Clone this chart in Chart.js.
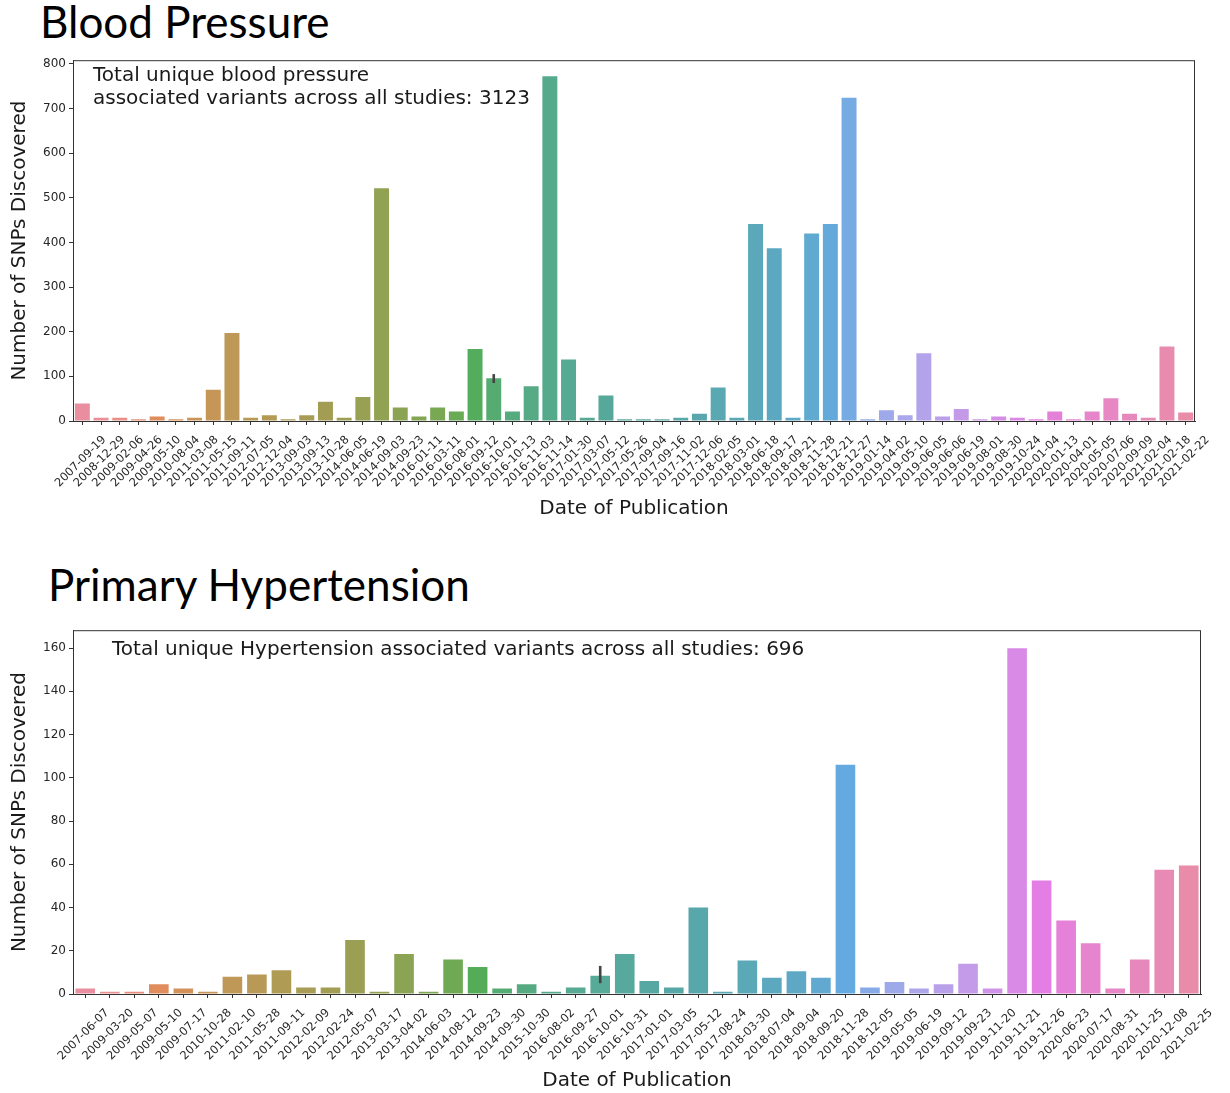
<!DOCTYPE html>
<html>
<head>
<meta charset="utf-8">
<script src="https://cdn.jsdelivr.net/npm/chart.js@4.4.1/dist/chart.umd.min.js"></script>
<style>
  html, body { margin: 0; padding: 0; background: #fff; }
  body { width: 1230px; height: 1093px; position: relative; overflow: hidden; }
  .title { position: absolute; font-family: Lato, sans-serif; font-size: 44px; line-height: 1; color: #000; white-space: nowrap; }
  .box { position: absolute; left: 0; width: 1230px; }
</style>
</head>
<body>
<div class="title" style="left:40px; top:-1px;">Blood Pressure</div>
<div class="box" style="top:50px; height:480px;"><canvas id="bpChart"></canvas></div>
<div class="title" style="left:48px; top:562px;">Primary Hypertension</div>
<div class="box" style="top:620px; height:473px;"><canvas id="htChart"></canvas></div>

<script>
// Blood pressure studies
const bpDates = ['2007-09-19', '2008-12-29', '2009-02-06', '2009-04-26', '2009-05-10', '2010-08-04', '2011-03-08', '2011-05-15', '2011-09-11', '2012-07-05',
    '2012-12-04', '2013-09-03', '2013-09-13', '2013-10-28', '2014-06-05', '2014-06-19', '2014-09-03', '2014-09-23', '2016-01-11', '2016-03-11',
    '2016-08-01', '2016-09-12', '2016-10-01', '2016-10-13', '2016-11-03', '2016-11-14', '2017-01-30', '2017-03-07', '2017-05-12', '2017-05-26',
    '2017-09-04', '2017-09-16', '2017-11-02', '2017-12-06', '2018-02-05', '2018-03-01', '2018-06-18', '2018-09-17', '2018-09-21', '2018-11-28',
    '2018-12-21', '2018-12-27', '2019-01-14', '2019-04-02', '2019-05-10', '2019-06-05', '2019-06-06', '2019-06-19', '2019-08-01', '2019-08-30',
    '2019-10-24', '2020-01-04', '2020-01-13', '2020-04-01', '2020-05-05', '2020-07-06', '2020-09-09', '2021-02-04', '2021-02-18', '2021-02-22'];
const bpSnps = [39, 7, 7, 4, 10, 4, 7, 70, 197, 7,
    13, 4, 13, 43, 7, 54, 521, 30, 10, 30,
    21, 161, 96, 21, 78, 772, 138, 7, 57, 4,
    4, 4, 7, 16, 75, 7, 441, 387, 7, 420,
    441, 724, 4, 24, 13, 152, 10, 27, 4, 10,
    7, 4, 21, 4, 21, 51, 16, 7, 167, 19];
const bpErrors = [{ date: '2016-10-01', low: 85, high: 105 }];
const bpYTicks = [0, 100, 200, 300, 400, 500, 600, 700, 800];
const bpNote = ['Total unique blood pressure', 'associated variants across all studies: 3123'];

// Primary hypertension studies
const htDates = ['2007-06-07', '2009-03-20', '2009-05-07', '2009-05-10', '2009-07-17', '2010-10-28', '2011-02-10', '2011-05-28', '2011-09-11', '2012-02-09',
    '2012-02-24', '2012-05-07', '2013-03-17', '2013-04-02', '2014-06-03', '2014-08-12', '2014-09-23', '2014-09-30', '2015-10-30', '2016-08-02',
    '2016-09-27', '2016-10-01', '2016-10-31', '2017-01-01', '2017-03-05', '2017-05-12', '2017-08-24', '2018-03-30', '2018-07-04', '2018-09-04',
    '2018-09-20', '2018-11-28', '2018-12-05', '2019-05-05', '2019-06-19', '2019-09-12', '2019-09-23', '2019-11-20', '2019-11-21', '2019-12-26',
    '2020-06-23', '2020-07-17', '2020-08-31', '2020-11-25', '2020-12-08', '2021-02-25'];
const htSnps = [2.5, 1, 1, 4.5, 2.5, 1, 8, 9, 11, 3,
    3, 25, 1, 18.5, 1, 16, 12.5, 2.5, 4.5, 1,
    3, 8.5, 18.5, 6, 3, 40, 1, 15.5, 7.5, 10.5,
    7.5, 106, 3, 5.5, 2.5, 4.5, 14, 2.5, 160, 52.5,
    34, 23.5, 2.5, 16, 57.5, 59.5];
const htErrors = [{ date: '2016-10-01', low: 5, high: 13 }];
const htYTicks = [0, 20, 40, 60, 80, 100, 120, 140, 160];
const htNote = ['Total unique Hypertension associated variants across all studies: 696'];

// seaborn-like husl palette (desaturated 0.75)
const M = [[3.240969941904521, -1.537383177570093, -0.498610760293],
    [-0.96924363628087, 1.87596750150772, 0.041555057407175],
    [0.055630079696993, -0.20397695888897, 1.056971514242878]];
const refU = 0.19783000664283, refV = 0.46831999493879;
const kappa = 903.2962962, epsilon = 0.0088564516;

function maxChroma(L, H) {
    const hr = H / 360 * 2 * Math.PI;
    const sub1 = Math.pow(L + 16, 3) / 1560896;
    const sub2 = sub1 > epsilon ? sub1 : L / kappa;
    let best = Infinity;
    M.forEach(([m1, m2, m3]) => {
        [0, 1].forEach(t => {
            const top1 = (284517 * m1 - 94839 * m3) * sub2;
            const top2 = (838422 * m3 + 769860 * m2 + 731718 * m1) * L * sub2 - 769860 * t * L;
            const bottom = (632260 * m3 - 126452 * m2) * sub2 + 126452 * t;
            const len = (top2 / bottom) / (Math.sin(hr) - (top1 / bottom) * Math.cos(hr));
            if (len >= 0) best = Math.min(best, len);
        });
    });
    return best;
}

function huslToRgb(h, s, l) {
    const c = maxChroma(l, h) / 100 * s;
    const hr = h / 180 * Math.PI;
    const u = Math.cos(hr) * c, v = Math.sin(hr) * c;
    const varU = u / (13 * l) + refU, varV = v / (13 * l) + refV;
    const Y = l > 8 ? Math.pow((l + 16) / 116, 3) : l / kappa;
    const X = Y * 9 * varU / (4 * varV);
    const Z = Y * (12 - 3 * varU - 20 * varV) / (4 * varV);
    return M.map(r => {
        const lin = r[0] * X + r[1] * Y + r[2] * Z;
        const g = lin <= 0.0031308 ? 12.92 * lin : 1.055 * Math.pow(lin, 1 / 2.4) - 0.055;
        return Math.min(1, Math.max(0, g));
    });
}

function desaturate([r, g, b], prop) {
    const mx = Math.max(r, g, b), mn = Math.min(r, g, b), l = (mx + mn) / 2;
    if (mx === mn) return [r, g, b];
    const d = mx - mn;
    let s = l <= 0.5 ? d / (mx + mn) : d / (2 - mx - mn);
    let h;
    if (mx === r) h = (g - b) / d;
    else if (mx === g) h = (b - r) / d + 2;
    else h = (r - g) / d + 4;
    h = ((h / 6) % 1 + 1) % 1;
    s *= prop;
    const q = l < 0.5 ? l * (1 + s) : l + s - l * s, p = 2 * l - q;
    const f = t => {
        t = (t % 1 + 1) % 1;
        if (t < 1 / 6) return p + (q - p) * 6 * t;
        if (t < 0.5) return q;
        if (t < 2 / 3) return p + (q - p) * (2 / 3 - t) * 6;
        return p;
    };
    return [f(h + 1 / 3), f(h), f(h - 1 / 3)];
}

function huslPalette(n) {
    const colors = [];
    for (let i = 0; i < n; i++) {
        const h = ((i / n + 0.01) % 1) * 359;
        // slight wash toward white, the screenshot is a bit faded
        const rgb = desaturate(huslToRgb(h, 89.1, 64.35), 0.75).map(c => c + (1 - c) * 0.1);
        colors.push('rgb(' + rgb.map(c => Math.round(c * 255)).join(',') + ')');
    }
    return colors;
}

// frame, error bars and the note text
const extrasPlugin = {
    id: 'extras',
    afterDatasetsDraw(chart, args, opts) {
        const { ctx, chartArea: a, scales: { x, y } } = chart;
        ctx.save();
        opts.errors.forEach(e => {
            const px = x.getPixelForValue(x.getLabels().indexOf(e.date));
            ctx.strokeStyle = '#444';
            ctx.lineWidth = 2.6;
            ctx.beginPath();
            ctx.moveTo(px, y.getPixelForValue(e.low));
            ctx.lineTo(px, y.getPixelForValue(e.high));
            ctx.stroke();
        });
        ctx.strokeStyle = '#333';
        ctx.lineWidth = 1;
        ctx.strokeRect(a.left + 0.5, a.top + 0.5, a.right - a.left - 1, a.bottom - a.top);
        ctx.fillStyle = '#1a1a1a';
        ctx.font = '20px "DejaVu Sans"';
        ctx.textBaseline = 'middle';
        opts.note.forEach((line, i) => ctx.fillText(line, a.left + opts.noteX, a.top + opts.noteY + i * 23));
        ctx.restore();
    }
};

function drawChart(canvasId, dates, snps, yTicks, yMax, errors, note, box) {
    const ctx = document.getElementById(canvasId).getContext('2d');
    return new Chart(ctx, {
        type: 'bar',
        data: {
            labels: dates,
            datasets: [{
                data: snps,
                backgroundColor: huslPalette(dates.length),
                borderWidth: 0,
                categoryPercentage: 1,
                barPercentage: 0.8
            }]
        },
        options: {
            animation: false,
            responsive: true,
            maintainAspectRatio: false,
            devicePixelRatio: 1,
            layout: { padding: { left: 0, right: box.right, top: box.top, bottom: 0 } },
            plugins: {
                legend: { display: false },
                tooltip: { enabled: false },
                extras: { errors: errors, note: note, noteX: box.noteX, noteY: box.noteY }
            },
            scales: {
                x: {
                    type: 'category',
                    offset: true,
                    grid: { display: true, drawOnChartArea: false, offset: false, tickLength: 4, tickColor: '#333' },
                    border: { display: true, color: '#333' },
                    ticks: {
                        autoSkip: false, minRotation: 45, maxRotation: 45, labelOffset: 22, padding: 8,
                        color: '#262626', font: { family: 'DejaVu Sans', size: 11.5 }
                    },
                    title: {
                        display: true, text: 'Date of Publication', color: '#1a1a1a',
                        font: { family: 'DejaVu Sans', size: 20 }, padding: { top: 0, bottom: box.titlePad }
                    },
                    afterFit: scale => { scale.height = box.xHeight; }
                },
                y: {
                    min: 0,
                    max: yMax,
                    grid: { display: true, drawOnChartArea: false, tickLength: 4, tickColor: '#333' },
                    border: { display: true, color: '#333' },
                    afterBuildTicks: scale => { scale.ticks = yTicks.map(v => ({ value: v })); },
                    ticks: { padding: 3, color: '#262626', font: { family: 'DejaVu Sans', size: 12 } },
                    title: {
                        display: true, text: 'Number of SNPs Discovered', color: '#1a1a1a',
                        font: { family: 'DejaVu Sans', size: 20 }, padding: { top: 8, bottom: 0 }
                    },
                    afterFit: scale => { scale.width = 73; }
                }
            }
        },
        plugins: [extrasPlugin]
    });
}

drawChart('bpChart', bpDates, bpSnps, bpYTicks, 808, bpErrors, bpNote,
    { right: 35, top: 9, xHeight: 109, titlePad: 9, noteX: 20, noteY: 16 });
drawChart('htChart', htDates, htSnps, htYTicks, 168.3, htErrors, htNote,
    { right: 29, top: 8, xHeight: 99, titlePad: 0, noteX: 39, noteY: 20 });
</script>
</body>
</html>
